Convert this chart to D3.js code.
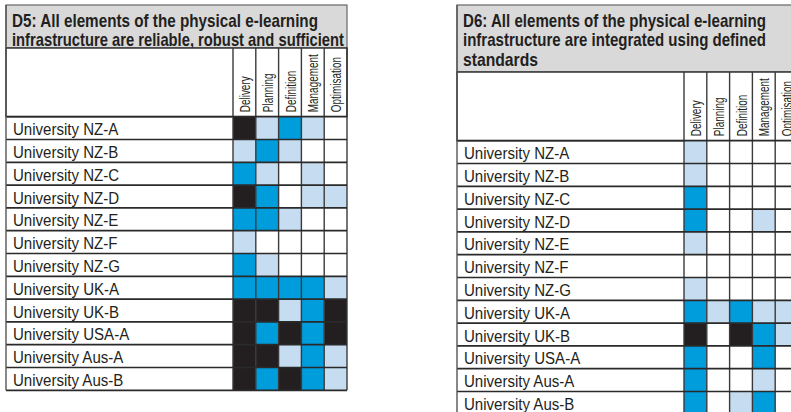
<!DOCTYPE html>
<html><head><meta charset="utf-8">
<script src="https://cdn.jsdelivr.net/npm/d3@7"></script>
<style>html,body{margin:0;padding:0;background:#fff;}svg{display:block;}</style>
</head><body>
<svg id="c" width="791" height="412"></svg>
<script>
const universities = ["University NZ-A","University NZ-B","University NZ-C","University NZ-D","University NZ-E","University NZ-F","University NZ-G","University UK-A","University UK-B","University USA-A","University Aus-A","University Aus-B"];
const dimensions = ["Delivery","Planning","Definition","Management","Optimisation"];
// capability level: 0 none, 1 partial, 2 large, 3 full
const d5Title = ["D5: All elements of the physical e-learning","infrastructure are reliable, robust and sufficient"];
const d5Values = [
  [3,1,2,1,0],[1,2,1,0,0],[2,1,0,1,0],[3,2,0,1,1],[2,2,1,0,0],[1,0,0,0,0],
  [2,1,0,0,0],[2,2,2,2,1],[3,3,1,2,3],[3,2,3,2,3],[3,3,1,2,1],[3,2,3,2,1]
];
const d6Title = ["D6: All elements of the physical e-learning","infrastructure are integrated using defined","standards"];
const d6Values = [
  [1,0,0,0,0],[1,0,0,0,0],[2,0,0,0,0],[2,0,0,1,0],[1,0,0,0,0],[0,0,0,0,0],
  [1,0,0,0,0],[2,1,2,1,1],[3,0,3,2,1],[2,0,0,2,0],[2,0,0,1,0],[2,0,1,2,0]
];
const levels = [0,1,2,3];
const levelColors = ["#ffffff","#c6dcf0","#009ddc","#231f20"];

const svg = d3.select("#c");
const color = d3.scaleOrdinal().domain(levels).range(levelColors);

function panel(x0, titleLines, titleBottom, titleWidths, values) {
  const top = 5, labelW = 227, colW = 22.8, rowH = 22.8, headH = 68.7;
  const gridTop = titleBottom + headH;
  const g = svg.append("g");
  const xCol = d3.scaleBand().domain(dimensions).range([x0 + labelW, x0 + labelW + colW*dimensions.length]);
  const yRow = d3.scaleBand().domain(universities).range([gridTop, gridTop + rowH*universities.length]);
  const right = x0 + labelW + colW*dimensions.length;

  // title box
  g.append("rect").attr("x", x0).attr("y", top).attr("width", right - x0).attr("height", titleBottom - top)
    .attr("fill", "#d9d9d9").attr("stroke", "#666").attr("stroke-width", 1.2);
  g.selectAll("text.title").data(titleLines).join("text").attr("class","title")
    .attr("x", x0 + 6).attr("y", (d,i) => top + 21.5 + i*19.5)
    .attr("font-family", "Liberation Sans, Arial, sans-serif").attr("font-weight", "bold")
    .attr("font-size", 19).attr("fill", "#231f20")
    .attr("textLength", (d,i) => titleWidths[i]).attr("lengthAdjust", "spacingAndGlyphs")
    .text(d => d);

  // header box
  g.append("rect").attr("x", x0).attr("y", titleBottom).attr("width", right - x0).attr("height", headH)
    .attr("fill", "#fff").attr("stroke", "#333").attr("stroke-width", 1.5);
  g.selectAll("text.dim").data(dimensions).join("text").attr("class","dim")
    .attr("transform", d => `translate(${xCol(d) + colW/2 + 5.5},${gridTop - 4.5}) rotate(-90) scale(0.72,1)`)
    .attr("font-family", "Liberation Sans, Arial, sans-serif").attr("font-size", 13.8).attr("fill", "#231f20")
    .text(d => d);

  // cells
  const cells = [];
  universities.forEach((u,i) => dimensions.forEach((dm,j) => cells.push({u, dm, v: values[i][j]})));
  g.selectAll("rect.cell").data(cells).join("rect").attr("class","cell")
    .attr("x", d => xCol(d.dm)).attr("y", d => yRow(d.u))
    .attr("width", xCol.bandwidth()).attr("height", yRow.bandwidth())
    .attr("fill", d => color(d.v));

  // labels
  g.selectAll("text.lab").data(universities).join("text").attr("class","lab")
    .attr("transform", d => `translate(${x0 + 7},${yRow(d) + 18.5}) scale(0.87,1)`)
    .attr("font-family", "Liberation Sans, Arial, sans-serif").attr("font-size", 17.3).attr("fill", "#231f20")
    .text(d => d);

  // vertical grid lines (header + body)
  const vx = dimensions.map(d => xCol(d)).concat([right]);
  g.selectAll("line.v").data(vx).join("line").attr("class","v")
    .attr("x1", d => d).attr("x2", d => d).attr("y1", titleBottom).attr("y2", yRow.range()[1])
    .attr("stroke", "#3a3a3a").attr("stroke-width", 1.4);
  // horizontal row lines
  const hy = universities.map(u => yRow(u)).concat([yRow.range()[1]]);
  g.selectAll("line.h").data(hy).join("line").attr("class","h")
    .attr("x1", x0).attr("x2", right).attr("y1", d => d).attr("y2", d => d)
    .attr("stroke", "#2a2a2a").attr("stroke-width", 1.7);
  // left border
  g.append("line").attr("x1", x0).attr("x2", x0).attr("y1", top).attr("y2", yRow.range()[1])
    .attr("stroke", "#555").attr("stroke-width", 1.4);
}

panel(6, d5Title, 48, [306, 332], d5Values);
panel(457, d6Title, 72, [303, 303, 75], d6Values);
</script>
</body></html>
